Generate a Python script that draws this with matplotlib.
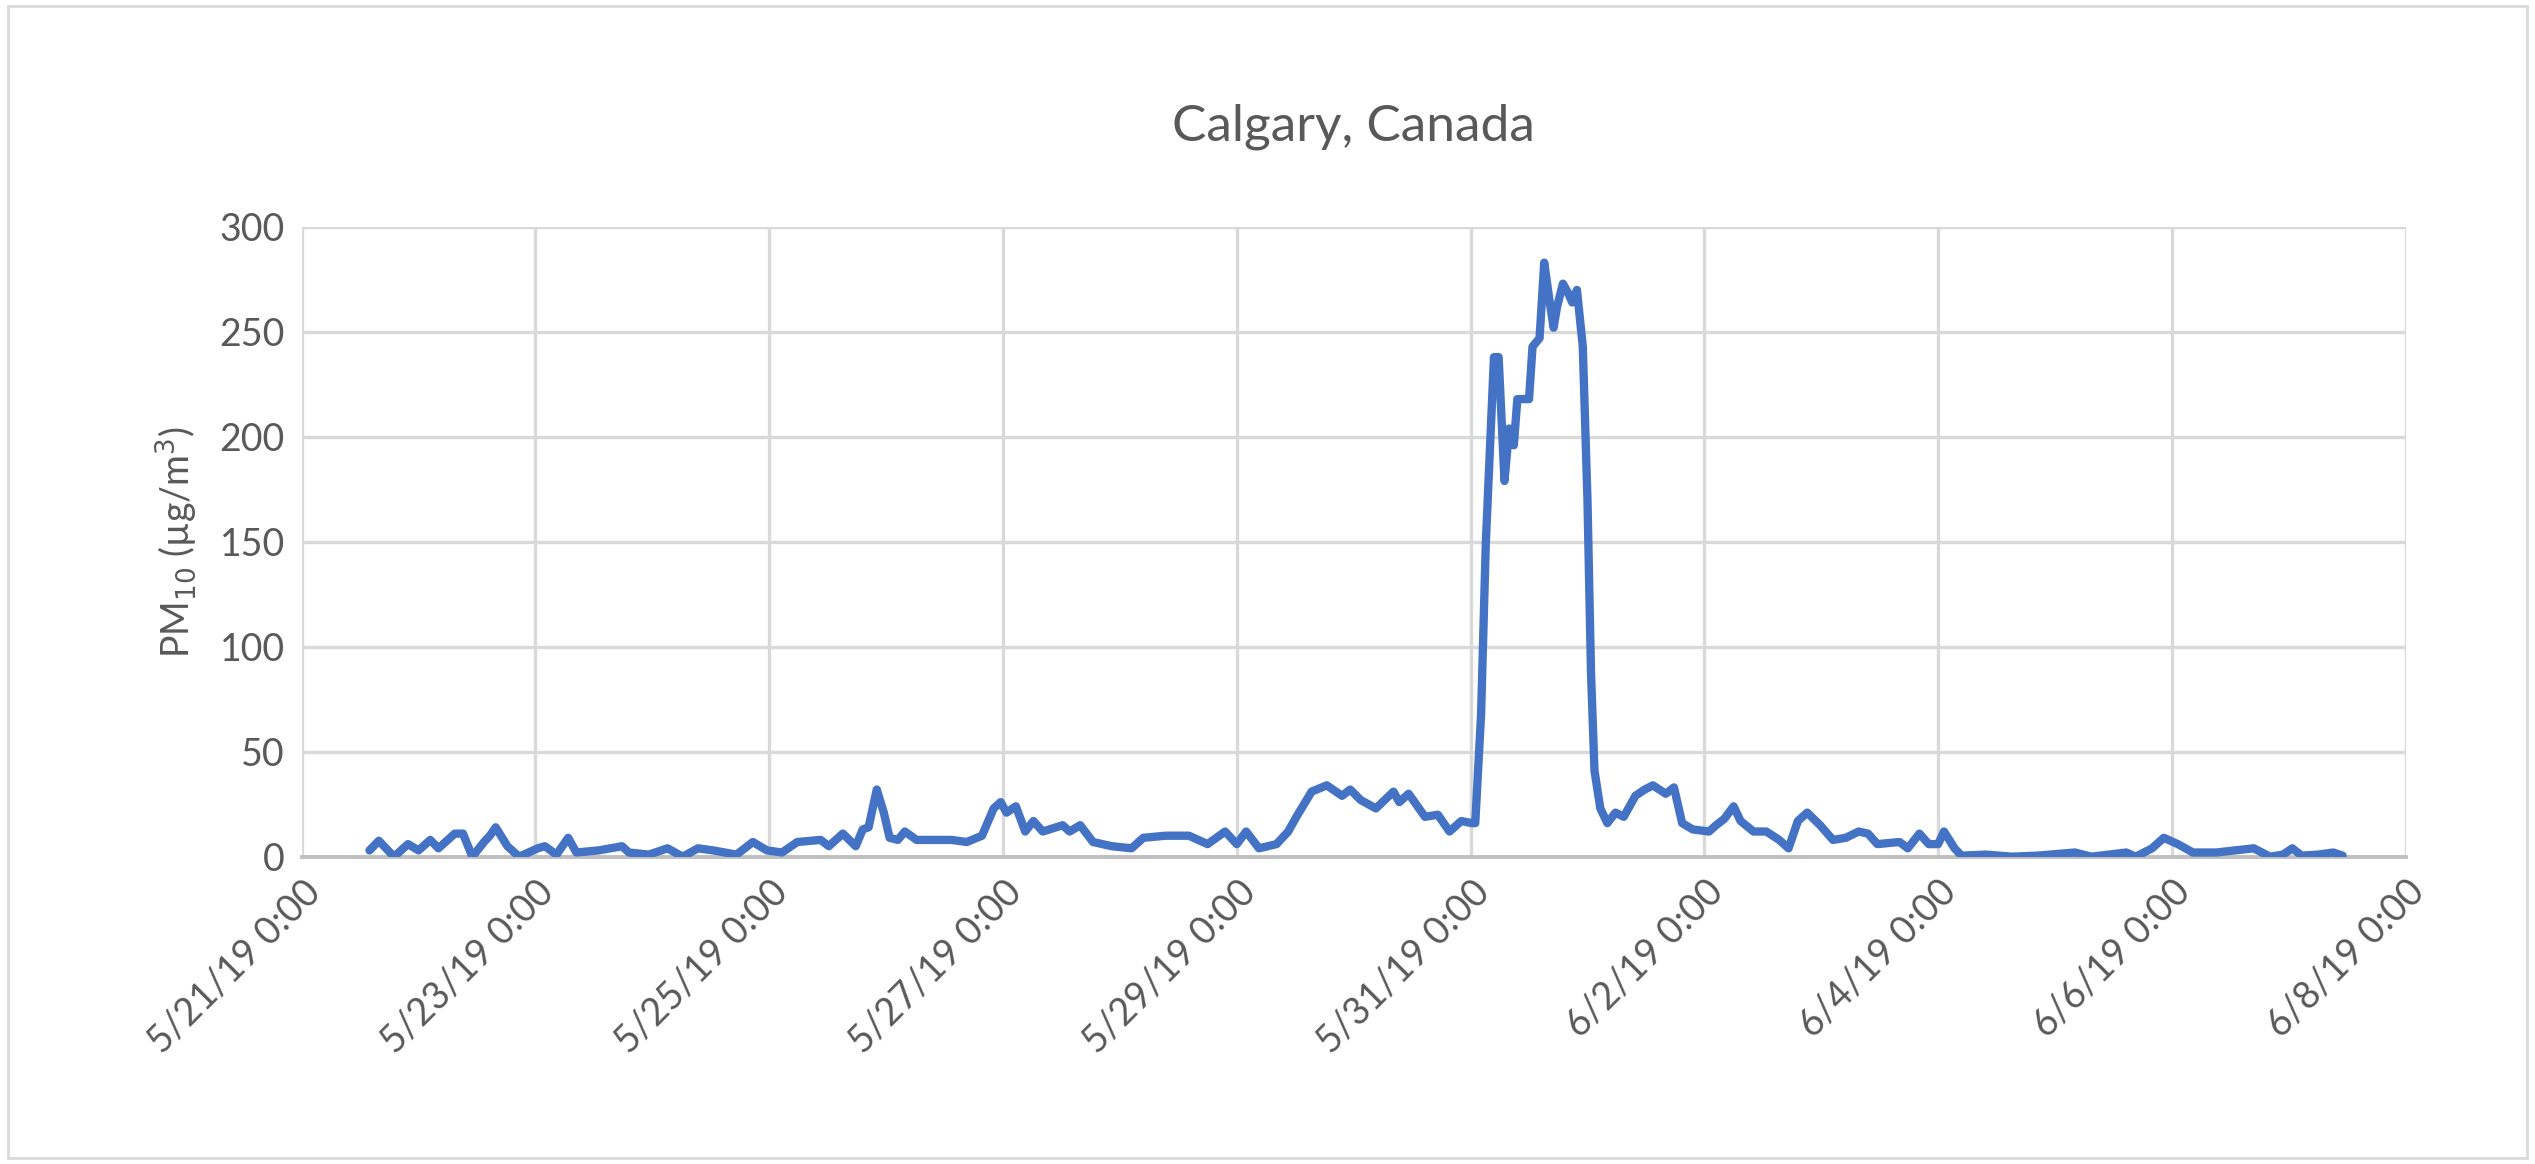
import datetime as dt
import matplotlib
matplotlib.use('Agg')
import matplotlib.pyplot as plt
import matplotlib.dates as mdates
from matplotlib.ticker import FuncFormatter

# days after 5/21/19 0:00 and PM10 values
days = [0.58, 0.66, 0.79, 0.91, 1.0, 1.1, 1.17, 1.31, 1.38, 1.46, 1.56, 1.61, 1.66, 1.76, 1.86,
        2.02, 2.08, 2.18, 2.28, 2.35, 2.54, 2.74, 2.8, 2.97, 3.13, 3.26, 3.39, 3.52, 3.72, 3.86,
        3.98, 4.11, 4.24, 4.44, 4.51, 4.63, 4.74, 4.8, 4.85, 4.92, 4.98, 5.03, 5.1, 5.16, 5.26,
        5.43, 5.56, 5.69, 5.82, 5.92, 5.98, 6.03, 6.11, 6.19, 6.26, 6.34, 6.51, 6.57, 6.66, 6.77,
        6.93, 7.1, 7.2, 7.39, 7.59, 7.75, 7.9, 8.0, 8.08, 8.19, 8.34, 8.44, 8.51, 8.64, 8.77,
        8.9, 8.97, 9.06, 9.19, 9.34, 9.39, 9.47, 9.61, 9.72, 9.82, 9.92, 10.01,
        10.04, 10.09, 10.13, 10.17, 10.2, 10.24, 10.29, 10.33, 10.37, 10.4, 10.5, 10.53, 10.59,
        10.63, 10.67, 10.71, 10.74, 10.79, 10.83, 10.87, 10.91, 10.96, 11.0, 11.03, 11.06, 11.11,
        11.17, 11.24, 11.31, 11.41, 11.49, 11.56, 11.67, 11.74, 11.81, 11.9, 12.04, 12.1,
        12.17, 12.25, 12.31, 12.42, 12.53, 12.64, 12.72, 12.8, 12.88, 12.99, 13.1, 13.21, 13.32,
        13.4, 13.48, 13.67, 13.74, 13.84, 13.92, 14.0, 14.05, 14.14, 14.2, 14.41, 14.63, 14.85,
        15.17, 15.31, 15.61, 15.69, 15.83, 15.93, 16.05, 16.18, 16.38, 16.54, 16.7, 16.84, 16.95,
        17.03, 17.11, 17.25, 17.38, 17.46]
pm10 = [3, 7.6, 0, 6, 3, 8, 4, 11, 11, 0, 7, 10, 14, 5, 0,
        4, 5, 1, 9, 2, 3, 5, 2, 1, 4, 0, 4, 3, 1, 7,
        3, 2, 7, 8, 5, 11, 5, 13, 14, 32, 21, 9, 8, 12, 8,
        8, 8, 7, 10, 23, 26, 21, 24, 12, 17, 12, 15, 12, 15, 7,
        5, 4, 9, 10, 10, 6, 12, 6, 12, 4, 6, 12, 19, 31, 34,
        29, 32, 27, 23, 31, 26, 30, 19, 20, 12, 17, 16,
        16, 68, 149, 200, 238, 238, 179, 204, 196, 218, 218, 243, 247,
        283, 267, 252, 262, 273, 269, 264, 270, 243, 170, 88, 41, 23,
        16, 21, 19, 29, 32, 34, 30, 33, 16, 13, 12, 15,
        18, 24, 17, 12, 12, 8, 4, 17, 21, 15, 8, 9, 12,
        11, 6, 7, 4, 11, 6, 6, 12, 4, 0.5, 1, 0, 0.5,
        2, 0, 2, 0, 4, 9, 6, 2, 2, 3, 4, 0, 1,
        4, 0.5, 1, 2, 0.5]

start = dt.datetime(2019, 5, 21)
times = [start + dt.timedelta(days=d) for d in days]

plt.rcParams['font.family'] = ['Lato', 'DejaVu Sans']
grey = '#595959'

fig = plt.figure(figsize=(25.35, 11.64), dpi=100)
fig.patches.append(plt.Rectangle((0.003, 0.005), 0.994, 0.99, transform=fig.transFigure,
                                 fill=False, edgecolor='#d9d9d9', linewidth=2))
ax = fig.add_axes([0.119, 0.264, 0.83, 0.541])
ax.plot(times, pm10, color='#4472C4', linewidth=6, solid_joinstyle='round',
        solid_capstyle='round', zorder=3)

ax.set_xlim(start, start + dt.timedelta(days=18))
ax.set_ylim(0, 300)
ax.set_yticks(range(0, 301, 50))
ax.set_xticks([start + dt.timedelta(days=2 * i) for i in range(10)])
ax.xaxis.set_major_formatter(FuncFormatter(
    lambda v, p: (lambda t: f'{t.month}/{t.day}/{t:%y} 0:00')(mdates.num2date(v))))

ax.grid(True, color='#d9d9d9', linewidth=2.4)
ax.set_axisbelow(True)
for s in ['top', 'right', 'left']:
    ax.spines[s].set_visible(False)
ax.spines['bottom'].set_color('#bfbfbf')
ax.spines['bottom'].set_linewidth(2.8)
ax.tick_params(length=0, labelsize=27, colors=grey, pad=12)
plt.setp(ax.get_xticklabels(), rotation=45, ha='right', rotation_mode='anchor')

ax.set_ylabel('PM$_{10}$ (µg/m$^{3}$)', fontsize=27, color=grey, labelpad=14)
ax.set_title('Calgary, Canada', fontsize=37, color=grey, pad=62)

fig.savefig('out.png', dpi=100)
